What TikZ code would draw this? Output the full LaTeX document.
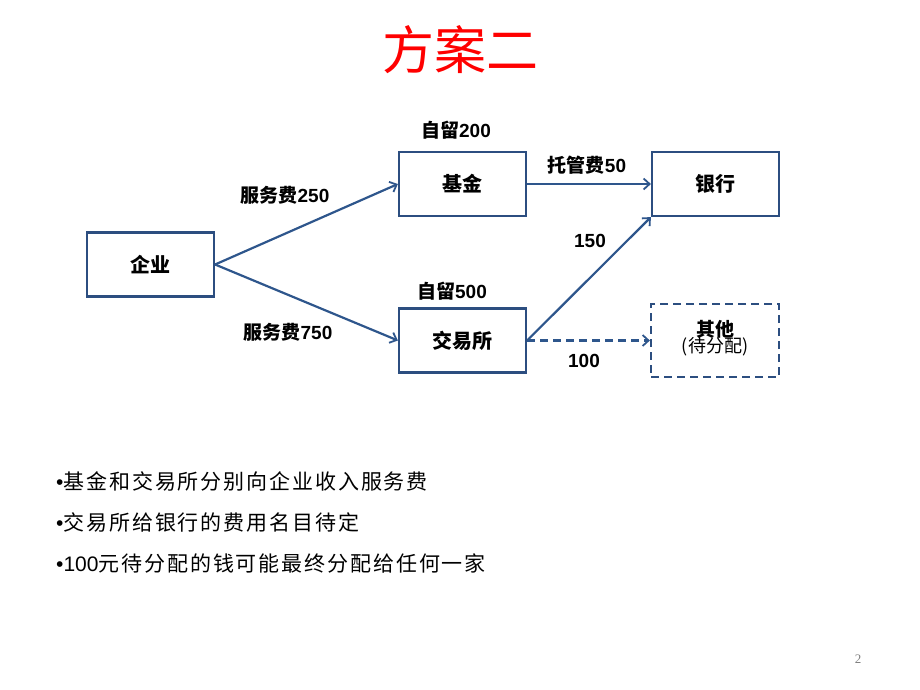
\documentclass[tikz,border=0pt]{standalone}
\usepackage{fontspec}
\setmainfont{Noto Sans CJK SC}
\newfontfamily\cjk{Noto Sans CJK SC}
\newfontfamily\cjksp{Noto Sans CJK SC}[LetterSpace=9]
\newfontfamily\lat{Liberation Sans}
\newfontfamily\serifnum{Liberation Serif}
\usetikzlibrary{arrows.meta}
\definecolor{boxblue}{RGB}{44,78,128}
\definecolor{arrblue}{RGB}{46,86,140}
\definecolor{titlered}{RGB}{255,0,0}
\tikzset{
  entity/.style={draw=boxblue, line width=2.2pt, minimum width=127pt, minimum height=64pt, inner sep=0pt, font=\fontsize{20}{22}\selectfont\bfseries},
  flow/.style={draw=arrblue, line width=2.2pt, -{Straight Barb[length=6pt,width=11pt,line width=1.8pt]}},
  lbl/.style={font=\fontsize{19}{21}\selectfont\bfseries, inner sep=0pt},
  bullet/.style={anchor=west, font=\fontsize{21}{24}\selectfont, inner sep=0pt}
}
\begin{document}
\begin{tikzpicture}[x=1pt,y=1pt]
\useasboundingbox (0,0) rectangle (920,-690);
\node[font=\fontsize{52}{56}\selectfont, text=titlered] (title) at (460,-50) {方案二};

\node[entity] (qy) at (150.5,-264.5) {企业};
\node[entity] (jj) at (462.5,-184) {基金};
\node[entity] (yh) at (715.5,-184) {银行};
\node[entity] (jys) at (462.5,-340.5) {交易所};
\node[entity, dash pattern=on 8pt off 5pt, minimum width=128pt, minimum height=73pt] (qt) at (715,-340.5) {};
\node[font=\fontsize{19}{20}\selectfont\bfseries, inner sep=0pt] (qtname) at (715,-329) {其他};
\node[font=\fontsize{18}{20}\selectfont, inner sep=0pt] (qtsub) at (715,-347) {(待分配)};

\draw[flow] (qy.east) -- (jj.west);
\draw[flow] (qy.east) -- (jys.west);
\draw[flow] (jj.east) -- (yh.west);
\draw[flow] (jys.east) -- (yh.south west);
\draw[flow, dash pattern=on 8pt off 5pt] (jys.east) -- (qt.west);

\node[lbl] (l1) at (456,-130) {自留{\lat 200}};
\node[lbl] (l2) at (587,-165) {托管费{\lat 50}};
\node[lbl] (l3) at (285,-195) {服务费{\lat 250}};
\node[lbl] (l4) at (590,-241) {\lat 150};
\node[lbl] (l5) at (452,-291) {自留{\lat 500}};
\node[lbl] (l6) at (288,-332) {服务费{\lat 750}};
\node[lbl] (l7) at (584,-361) {\lat 100};

\node[bullet] (b1) at (56,-481) {{\lat •}\cjksp 基金和交易所分别向企业收入服务费};
\node[bullet] (b2) at (56,-522) {{\lat •}\cjksp 交易所给银行的费用名目待定};
\node[bullet] (b3) at (56,-563) {{\lat •100}\cjksp 元待分配的钱可能最终分配给任何一家};

\node[font=\fontsize{13}{14}\selectfont\serifnum, text=gray] (pg) at (858,-659) {2};
\end{tikzpicture}
\end{document}
